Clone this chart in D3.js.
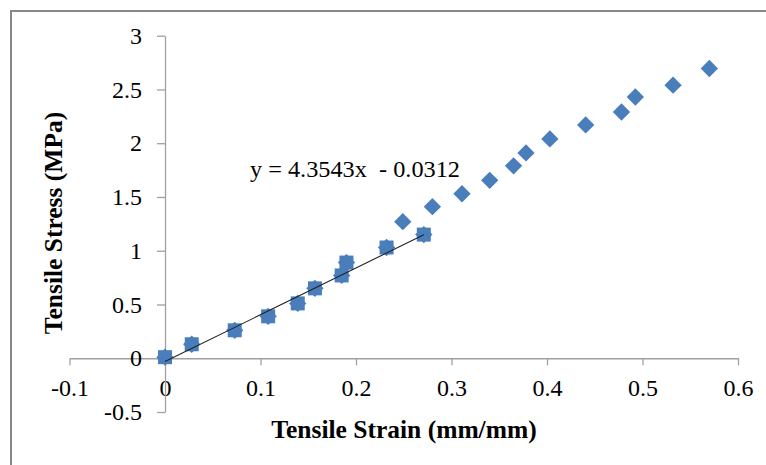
<!DOCTYPE html>
<html>
<head>
<meta charset="utf-8">
<script src="https://cdn.jsdelivr.net/npm/d3@7"></script>
<style>
  html, body { margin: 0; padding: 0; background: #fff; }
  svg { display: block; }
  text { font-family: "Liberation Serif", "Times New Roman", serif; fill: #000; }
</style>
</head>
<body>
<svg id="chart" width="766" height="465"></svg>
<script>
// Tensile test readings: strain (mm/mm) and stress (MPa).
// The first `fitCount` readings form the linear region used for the trendline.
const strain = [0, 0.028, 0.073, 0.108, 0.139, 0.157, 0.185, 0.190, 0.232, 0.271,
                0.249, 0.280, 0.311, 0.340, 0.365, 0.378, 0.403, 0.4405, 0.478, 0.4925, 0.532, 0.570];
const stress = [0.01, 0.13, 0.26, 0.39, 0.51, 0.65, 0.77, 0.89, 1.03, 1.15,
                1.27, 1.41, 1.53, 1.655, 1.79, 1.91, 2.04, 2.17, 2.29, 2.43, 2.54, 2.695];
const fitCount = 10;

// Linear trendline y = slope * x + intercept over the linear region
const slope = 4.3543;
const intercept = -0.0312;
const equationLabel = "y = 4.3543x  - 0.0312";

const xTicks = [-0.1, 0, 0.1, 0.2, 0.3, 0.4, 0.5, 0.6];
const yTicks = [-0.5, 0, 0.5, 1, 1.5, 2, 2.5, 3];
const xTitle = "Tensile Strain (mm/mm)";
const yTitle = "Tensile Stress (MPa)";

const svg = d3.select("#chart");
const markerColor = "#4a7ebb";
const axisColor = "#a0a0a0";
const serif = "'Liberation Serif', 'Times New Roman', serif";
const fmt = d => String(+d.toFixed(2));

// Outer chart frame
svg.append("rect")
  .attr("x", 11).attr("y", 11)
  .attr("width", 800).attr("height", 500)
  .attr("fill", "none")
  .attr("stroke", "#888")
  .attr("stroke-width", 2);

const x = d3.scaleLinear().domain([-0.1, 0.6]).range([69.5, 738]);
const y = d3.scaleLinear().domain([-0.5, 3]).range([412, 35.7]);

// Horizontal axis crosses at stress = 0
const xAxis = svg.append("g")
  .attr("transform", `translate(0,${y(0)})`)
  .call(d3.axisBottom(x).tickValues(xTicks).tickFormat(fmt)
        .tickSize(7).tickSizeOuter(0).tickPadding(14));

// Vertical axis crosses at strain = 0
const yAxis = svg.append("g")
  .attr("transform", `translate(${x(0)},0)`)
  .call(d3.axisLeft(y).tickValues(yTicks).tickFormat(fmt)
        .tickSize(8).tickSizeOuter(0).tickPadding(15));

[xAxis, yAxis].forEach(g => {
  g.attr("font-family", serif).attr("font-size", 24);
  g.select(".domain").attr("stroke", axisColor).attr("stroke-width", 1.3);
  g.selectAll(".tick line").attr("stroke", axisColor).attr("stroke-width", 1.3);
  g.selectAll(".tick text").attr("fill", "#000");
});

const points = strain.map((s, i) => ({ s, v: stress[i], i }));

// All readings as diamonds
svg.append("g").selectAll("path")
  .data(points)
  .join("path")
  .attr("d", d3.symbol(d3.symbolSquare, 150)())
  .attr("transform", d => `translate(${x(d.s)},${y(d.v)}) rotate(45)`)
  .attr("fill", markerColor);

// Linear-region readings as squares on top
svg.append("g").selectAll("path")
  .data(points.slice(0, fitCount))
  .join("path")
  .attr("d", d3.symbol(d3.symbolSquare, 196)())
  .attr("transform", d => `translate(${x(d.s)},${y(d.v)})`)
  .attr("fill", markerColor);

// Trendline across the linear region
const fitX = d3.extent(strain.slice(0, fitCount));
svg.append("line")
  .attr("x1", x(fitX[0])).attr("y1", y(slope * fitX[0] + intercept))
  .attr("x2", x(fitX[1])).attr("y2", y(slope * fitX[1] + intercept))
  .attr("stroke", "#222")
  .attr("stroke-width", 1.1);

svg.append("text")
  .attr("x", 250).attr("y", 177)
  .attr("font-size", 23)
  .attr("textLength", 210)
  .attr("lengthAdjust", "spacingAndGlyphs")
  .style("white-space", "pre")
  .text(equationLabel);

// Axis titles
svg.append("text")
  .attr("x", 404).attr("y", 438)
  .attr("text-anchor", "middle")
  .attr("font-size", 25.5)
  .attr("font-weight", "bold")
  .text(xTitle);

svg.append("text")
  .attr("transform", "translate(62,223) rotate(-90)")
  .attr("text-anchor", "middle")
  .attr("font-size", 25.5)
  .attr("font-weight", "bold")
  .text(yTitle);
</script>
</body>
</html>
